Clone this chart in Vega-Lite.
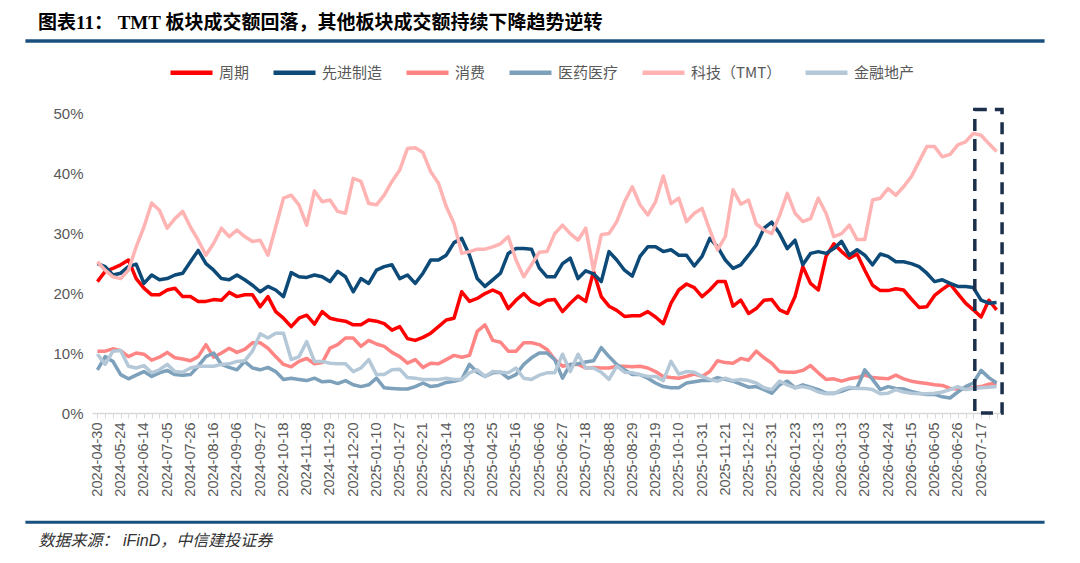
{
  "$schema": "https://vega.github.io/schema/vega-lite/v6.json",
  "width": 910,
  "height": 300,
  "autosize": "none",
  "padding": {"left": 92, "top": 113, "right": 78, "bottom": 150},
  "background": "white",
  "title": {
    "text": "图表11：  TMT 板块成交额回落，其他板块成交额持续下降趋势逆转",
    "anchor": "start",
    "frame": "group",
    "fontSize": 19,
    "font": "'Liberation Serif', 'Noto Sans CJK SC'",
    "fontWeight": "bold",
    "color": "#000000",
    "dx": -54,
    "offset": 6
  },
  "config": {"view": {"stroke": null}},
  "layer": [
    {
      "data": {"values": [
        {"d":"2024-04-30","周期":21.9,"先进制造":24.9,"消费":10.3,"医药医疗":7.2,"科技（TMT）":25.2,"金融地产":9.8},
        {"d":"2024-05-10","周期":23.6,"先进制造":24.4,"消费":10.3,"医药医疗":9.4,"科技（TMT）":23.8,"金融地产":8.1},
        {"d":"2024-05-17","周期":24.1,"先进制造":23.0,"消费":10.7,"医药医疗":8.6,"科技（TMT）":22.7,"金融地产":10.3},
        {"d":"2024-05-24","周期":24.7,"先进制造":23.3,"消费":10.4,"医药医疗":6.4,"科技（TMT）":22.4,"金融地产":10.4},
        {"d":"2024-05-31","周期":25.5,"先进制造":24.4,"消费":9.4,"医药医疗":5.7,"科技（TMT）":23.8,"金融地产":7.8},
        {"d":"2024-06-07","周期":22.4,"先进制造":24.8,"消费":10.0,"医药医疗":6.3,"科技（TMT）":27.7,"金融地产":7.5},
        {"d":"2024-06-14","周期":20.8,"先进制造":21.6,"消费":9.8,"医药医疗":6.9,"科技（TMT）":31.0,"金融地产":7.9},
        {"d":"2024-06-21","周期":19.7,"先进制造":23.0,"消费":8.8,"医药医疗":6.1,"科技（TMT）":35.0,"金融地产":6.7},
        {"d":"2024-06-28","周期":19.7,"先进制造":22.2,"消费":9.3,"医药医疗":6.7,"科技（TMT）":33.8,"金融地产":7.2},
        {"d":"2024-07-05","周期":20.5,"先进制造":22.4,"消费":10.1,"医药医疗":7.1,"科技（TMT）":30.8,"金融地产":8.1},
        {"d":"2024-07-12","周期":20.8,"先进制造":23.0,"消费":9.2,"医药医疗":6.4,"科技（TMT）":32.4,"金融地产":6.9},
        {"d":"2024-07-19","周期":19.4,"先进制造":23.3,"消费":9.0,"医药医疗":6.3,"科技（TMT）":33.6,"金融地产":6.8},
        {"d":"2024-07-26","周期":19.4,"先进制造":25.2,"消费":8.7,"医药医疗":6.4,"科技（TMT）":31.0,"金融地产":7.5},
        {"d":"2024-08-02","周期":18.6,"先进制造":27.1,"消费":9.4,"医药医疗":7.8,"科技（TMT）":28.8,"金融地产":7.8},
        {"d":"2024-08-09","周期":18.6,"先进制造":24.9,"消费":11.4,"医药医疗":9.4,"科技（TMT）":26.3,"金融地产":7.8},
        {"d":"2024-08-16","周期":18.9,"先进制造":23.8,"消费":9.3,"医药医疗":10.0,"科技（TMT）":28.3,"金融地产":7.8},
        {"d":"2024-08-23","周期":18.8,"先进制造":22.4,"消费":10.0,"医药医疗":8.1,"科技（TMT）":30.8,"金融地产":8.1},
        {"d":"2024-08-30","周期":20.1,"先进制造":22.2,"消费":10.8,"医药医疗":7.6,"科技（TMT）":29.4,"金融地产":8.2},
        {"d":"2024-09-06","周期":19.4,"先进制造":23.0,"消费":10.1,"医药医疗":7.2,"科技（TMT）":30.5,"金融地产":8.6},
        {"d":"2024-09-13","周期":19.7,"先进制造":22.2,"消费":10.6,"医药医疗":8.6,"科技（TMT）":29.4,"金融地产":8.7},
        {"d":"2024-09-20","周期":19.7,"先进制造":21.3,"消费":11.7,"医药医疗":7.5,"科技（TMT）":28.6,"金融地产":10.3},
        {"d":"2024-09-27","周期":17.7,"先进制造":20.2,"消费":11.7,"医药医疗":7.2,"科技（TMT）":28.8,"金融地产":13.2},
        {"d":"2024-09-30","周期":19.4,"先进制造":21.1,"消费":10.8,"医药医疗":7.6,"科技（TMT）":26.3,"金融地产":12.5},
        {"d":"2024-10-11","周期":16.9,"先进制造":20.5,"消费":9.4,"医药医疗":6.9,"科技（TMT）":31.0,"金融地产":13.3},
        {"d":"2024-10-18","周期":15.8,"先进制造":19.4,"消费":8.1,"医药医疗":5.6,"科技（TMT）":35.8,"金融地产":13.3},
        {"d":"2024-10-25","周期":14.4,"先进制造":23.4,"消费":7.7,"医药医疗":5.8,"科技（TMT）":36.3,"金融地产":8.9},
        {"d":"2024-11-01","周期":15.8,"先进制造":22.7,"消费":8.6,"医药医疗":5.6,"科技（TMT）":34.7,"金融地产":9.4},
        {"d":"2024-11-08","周期":16.3,"先进制造":22.6,"消费":9.1,"医药医疗":5.4,"科技（TMT）":31.3,"金融地产":11.9},
        {"d":"2024-11-15","周期":14.8,"先进制造":23.0,"消费":8.2,"医药医疗":5.8,"科技（TMT）":37.0,"金融地产":8.6},
        {"d":"2024-11-22","周期":16.9,"先进制造":22.7,"消费":8.4,"医药医疗":5.2,"科技（TMT）":35.2,"金融地产":8.6},
        {"d":"2024-11-29","周期":15.8,"先进制造":21.9,"消费":10.8,"医药医疗":5.3,"科技（TMT）":35.5,"金融地产":8.3},
        {"d":"2024-12-06","周期":15.5,"先进制造":23.6,"消费":11.4,"医药医疗":4.9,"科技（TMT）":33.6,"金融地产":8.2},
        {"d":"2024-12-13","周期":15.3,"先进制造":22.7,"消费":12.5,"医药医疗":5.4,"科技（TMT）":33.3,"金融地产":8.2},
        {"d":"2024-12-20","周期":14.7,"先进制造":20.2,"消费":12.5,"医药医疗":4.7,"科技（TMT）":39.1,"金融地产":6.9},
        {"d":"2024-12-27","周期":14.7,"先进制造":22.4,"消费":11.1,"医药医疗":4.4,"科技（TMT）":38.6,"金融地产":7.5},
        {"d":"2025-01-03","周期":15.5,"先进制造":21.6,"消费":12.1,"医药医疗":4.7,"科技（TMT）":34.9,"金融地产":8.9},
        {"d":"2025-01-10","周期":15.3,"先进制造":23.8,"消费":11.5,"医药医疗":5.8,"科技（TMT）":34.7,"金融地产":6.4},
        {"d":"2025-01-17","周期":14.9,"先进制造":24.4,"消费":11.1,"医药医疗":4.2,"科技（TMT）":36.3,"金融地产":6.4},
        {"d":"2025-01-24","周期":13.8,"先进制造":24.7,"消费":10.1,"医药医疗":4.1,"科技（TMT）":38.6,"金融地产":7.2},
        {"d":"2025-01-27","周期":14.4,"先进制造":22.4,"消费":9.4,"医药医疗":4.0,"科技（TMT）":40.5,"金融地产":7.3},
        {"d":"2025-02-07","周期":12.4,"先进制造":23.0,"消费":8.3,"医药医疗":4.0,"科技（TMT）":44.1,"金融地产":5.9},
        {"d":"2025-02-14","周期":12.1,"先进制造":21.6,"消费":8.9,"医药医疗":4.4,"科技（TMT）":44.2,"金融地产":5.8},
        {"d":"2025-02-21","周期":12.6,"先进制造":23.3,"消费":7.6,"医药医疗":5.0,"科技（TMT）":43.4,"金融地产":5.6},
        {"d":"2025-02-28","周期":13.3,"先进制造":25.5,"消费":8.3,"医药医疗":4.4,"科技（TMT）":40.2,"金融地产":5.6},
        {"d":"2025-03-07","周期":14.4,"先进制造":25.5,"消费":8.2,"医药医疗":4.6,"科技（TMT）":38.3,"金融地产":5.6},
        {"d":"2025-03-14","周期":15.5,"先进制造":26.3,"消费":8.9,"医药医疗":5.1,"科技（TMT）":34.4,"金融地产":5.8},
        {"d":"2025-03-21","周期":15.8,"先进制造":28.4,"消费":9.6,"医药医疗":5.3,"科技（TMT）":31.6,"金融地产":5.6},
        {"d":"2025-03-28","周期":20.2,"先进制造":29.1,"消费":9.3,"医药医疗":5.6,"科技（TMT）":26.6,"金融地产":5.6},
        {"d":"2025-04-03","周期":18.6,"先进制造":26.3,"消费":9.6,"医药医疗":8.1,"科技（TMT）":26.9,"金融地产":6.7},
        {"d":"2025-04-11","周期":19.1,"先进制造":22.4,"消费":13.6,"医药医疗":6.8,"科技（TMT）":27.3,"金融地产":7.2},
        {"d":"2025-04-18","周期":19.9,"先进制造":21.1,"消费":14.7,"医药医疗":6.1,"科技（TMT）":27.3,"金融地产":6.1},
        {"d":"2025-04-25","周期":20.5,"先进制造":22.2,"消费":12.1,"医药医疗":6.7,"科技（TMT）":27.7,"金融地产":6.9},
        {"d":"2025-04-30","周期":19.9,"先进制造":23.3,"消费":11.8,"医药医疗":6.8,"科技（TMT）":28.2,"金融地产":6.8},
        {"d":"2025-05-09","周期":17.4,"先进制造":26.6,"消费":10.3,"医药医疗":5.8,"科技（TMT）":29.4,"金融地产":6.7},
        {"d":"2025-05-16","周期":18.8,"先进制造":27.4,"消费":10.3,"医药医疗":6.4,"科技（TMT）":25.5,"金融地产":7.5},
        {"d":"2025-05-23","周期":19.9,"先进制造":27.4,"消费":11.7,"医药医疗":8.1,"科技（TMT）":22.7,"金融地产":5.8},
        {"d":"2025-05-30","周期":18.6,"先进制造":27.3,"消费":11.7,"医药医疗":9.2,"科技（TMT）":24.7,"金融地产":5.6},
        {"d":"2025-06-06","周期":18.0,"先进制造":24.2,"消费":11.4,"医药医疗":10.0,"科技（TMT）":26.8,"金融地产":6.3},
        {"d":"2025-06-13","周期":18.8,"先进制造":22.7,"消费":10.6,"医药医疗":10.0,"科技（TMT）":26.9,"金融地产":6.7},
        {"d":"2025-06-20","周期":18.9,"先进制造":22.7,"消费":8.9,"医药医疗":8.9,"科技（TMT）":29.9,"金融地产":6.7},
        {"d":"2025-06-27","周期":16.9,"先进制造":24.9,"消费":7.8,"医药医疗":5.8,"科技（TMT）":31.3,"金融地产":9.8},
        {"d":"2025-07-04","周期":18.3,"先进制造":25.8,"消费":8.1,"医药医疗":8.1,"科技（TMT）":29.9,"金融地产":6.9},
        {"d":"2025-07-11","周期":19.5,"先进制造":22.4,"消费":8.1,"医药医疗":8.2,"科技（TMT）":28.8,"金融地产":9.8},
        {"d":"2025-07-18","周期":18.6,"先进制造":23.7,"消费":7.5,"医药医疗":8.5,"科技（TMT）":30.8,"金融地产":7.5},
        {"d":"2025-07-25","周期":23.6,"先进制造":23.2,"消费":7.6,"医药医疗":8.7,"科技（TMT）":23.8,"金融地产":7.5},
        {"d":"2025-08-01","周期":19.4,"先进制造":21.9,"消费":7.5,"医药医疗":10.9,"科技（TMT）":29.7,"金融地产":6.8},
        {"d":"2025-08-08","周期":17.8,"先进制造":26.9,"消费":7.5,"医药医疗":9.4,"科技（TMT）":29.9,"金融地产":5.6},
        {"d":"2025-08-15","周期":17.1,"先进制造":25.5,"消费":7.8,"医药医疗":8.1,"科技（TMT）":31.9,"金融地产":7.8},
        {"d":"2025-08-22","周期":16.1,"先进制造":23.8,"消费":7.8,"医药医疗":7.2,"科技（TMT）":35.2,"金融地产":6.8},
        {"d":"2025-08-29","周期":16.2,"先进制造":22.8,"消费":7.7,"医药医疗":6.4,"科技（TMT）":37.7,"金融地产":6.7},
        {"d":"2025-09-05","周期":16.2,"先进制造":26.1,"消费":7.8,"医药医疗":6.4,"科技（TMT）":34.7,"金融地产":6.4},
        {"d":"2025-09-12","周期":16.9,"先进制造":27.7,"消费":7.5,"医药医疗":5.8,"科技（TMT）":33.0,"金融地产":6.1},
        {"d":"2025-09-19","周期":16.0,"先进制造":27.7,"消费":6.9,"医药医疗":5.0,"科技（TMT）":35.2,"金融地产":6.1},
        {"d":"2025-09-26","周期":14.9,"先进制造":26.9,"消费":6.1,"医药医疗":4.4,"科技（TMT）":39.5,"金融地产":5.4},
        {"d":"2025-09-30","周期":18.3,"先进制造":27.2,"消费":5.9,"医药医疗":4.2,"科技（TMT）":34.9,"金融地产":8.6},
        {"d":"2025-10-10","周期":20.5,"先进制造":26.3,"消费":5.8,"医药医疗":4.2,"科技（TMT）":35.8,"金融地产":6.5},
        {"d":"2025-10-17","周期":21.5,"先进制造":26.3,"消费":6.1,"医药医疗":5.0,"科技（TMT）":31.9,"金融地产":6.9},
        {"d":"2025-10-24","周期":20.9,"先进制造":24.5,"消费":6.5,"医药医疗":5.2,"科技（TMT）":33.3,"金融地产":6.8},
        {"d":"2025-10-31","周期":19.4,"先进制造":26.1,"消费":6.1,"医药医疗":5.4,"科技（TMT）":34.1,"金融地产":6.1},
        {"d":"2025-11-07","周期":20.5,"先进制造":29.1,"消费":6.9,"医药医疗":5.4,"科技（TMT）":30.5,"金融地产":5.6},
        {"d":"2025-11-14","周期":21.9,"先进制造":27.7,"消费":8.7,"医药医疗":5.9,"科技（TMT）":27.2,"金融地产":5.3},
        {"d":"2025-11-21","周期":21.9,"先进制造":25.5,"消费":8.4,"医药医疗":5.6,"科技（TMT）":29.4,"金融地产":5.8},
        {"d":"2025-11-28","周期":17.8,"先进制造":24.1,"消费":8.3,"医药医疗":5.3,"科技（TMT）":37.2,"金融地产":5.4},
        {"d":"2025-12-05","周期":18.8,"先进制造":24.7,"消费":9.1,"医药医疗":4.8,"科技（TMT）":34.8,"金融地产":5.6},
        {"d":"2025-12-12","周期":16.6,"先进制造":26.3,"消费":8.8,"医药医疗":4.3,"科技（TMT）":35.5,"金融地产":5.4},
        {"d":"2025-12-19","周期":17.4,"先进制造":28.0,"消费":10.3,"医药医疗":4.4,"科技（TMT）":31.5,"金融地产":5.0},
        {"d":"2025-12-26","周期":18.8,"先进制造":30.8,"消费":9.2,"医药医疗":3.9,"科技（TMT）":30.5,"金融地产":4.2},
        {"d":"2025-12-31","周期":18.9,"先进制造":31.8,"消费":8.3,"医药医疗":3.3,"科技（TMT）":29.9,"金融地产":3.9},
        {"d":"2026-01-09","周期":17.2,"先进制造":29.9,"消费":6.9,"医药医疗":4.7,"科技（TMT）":32.9,"金融地产":5.3},
        {"d":"2026-01-16","周期":16.6,"先进制造":27.4,"消费":6.8,"医药医疗":5.3,"科技（TMT）":36.6,"金融地产":4.7},
        {"d":"2026-01-23","周期":19.4,"先进制造":28.8,"消费":6.8,"医药医疗":4.2,"科技（TMT）":33.3,"金融地产":4.2},
        {"d":"2026-01-30","周期":24.4,"先进制造":24.7,"消费":7.1,"医药医疗":4.7,"科技（TMT）":31.9,"金融地产":4.4},
        {"d":"2026-02-06","周期":21.6,"先进制造":26.6,"消费":7.9,"医药医疗":4.3,"科技（TMT）":32.4,"金融地产":4.1},
        {"d":"2026-02-13","周期":20.5,"先进制造":26.9,"消费":6.7,"医药医疗":3.9,"科技（TMT）":35.8,"金融地产":3.5},
        {"d":"2026-02-27","周期":26.1,"先进制造":26.6,"消费":5.6,"医药医疗":3.3,"科技（TMT）":33.3,"金融地产":3.2},
        {"d":"2026-03-06","周期":28.2,"先进制造":27.4,"消费":5.7,"医药医疗":3.3,"科技（TMT）":29.4,"金融地产":3.2},
        {"d":"2026-03-13","周期":26.9,"先进制造":28.6,"消费":5.3,"医药医疗":3.6,"科技（TMT）":29.9,"金融地产":3.9},
        {"d":"2026-03-20","周期":25.8,"先进制造":26.3,"消费":5.7,"医药医疗":4.1,"科技（TMT）":31.3,"金融地产":4.3},
        {"d":"2026-03-27","周期":26.5,"先进制造":27.2,"消费":5.9,"医药医疗":4.2,"科技（TMT）":28.9,"金融地产":4.1},
        {"d":"2026-04-03","周期":23.8,"先进制造":26.3,"消费":6.3,"医药医疗":7.2,"科技（TMT）":28.9,"金融地产":4.1},
        {"d":"2026-04-10","周期":21.3,"先进制造":24.7,"消费":5.9,"医药医疗":5.6,"科技（TMT）":35.5,"金融地产":3.9},
        {"d":"2026-04-17","周期":20.4,"先进制造":26.5,"消费":5.8,"医药医疗":3.9,"科技（TMT）":35.8,"金融地产":3.2},
        {"d":"2026-04-24","周期":20.4,"先进制造":26.1,"消费":5.7,"医药医疗":4.4,"科技（TMT）":37.4,"金融地产":3.3},
        {"d":"2026-04-30","周期":20.7,"先进制造":25.2,"消费":6.3,"医药医疗":4.1,"科技（TMT）":36.3,"金融地产":3.9},
        {"d":"2026-05-08","周期":20.5,"先进制造":25.2,"消费":5.7,"医药医疗":4.0,"科技（TMT）":37.7,"金融地产":3.5},
        {"d":"2026-05-15","周期":19.0,"先进制造":24.9,"消费":5.3,"医药医疗":3.6,"科技（TMT）":39.4,"金融地产":3.3},
        {"d":"2026-05-22","周期":17.6,"先进制造":24.4,"消费":5.1,"医药医疗":3.3,"科技（TMT）":41.9,"金融地产":3.2},
        {"d":"2026-05-29","周期":17.7,"先进制造":23.3,"消费":4.9,"医药医疗":3.1,"科技（TMT）":44.4,"金融地产":3.2},
        {"d":"2026-06-05","周期":19.6,"先进制造":21.9,"消费":4.7,"医药医疗":3.1,"科技（TMT）":44.4,"金融地产":3.3},
        {"d":"2026-06-12","周期":20.6,"先进制造":22.2,"消费":4.6,"医药医疗":2.7,"科技（TMT）":42.7,"金融地产":3.5},
        {"d":"2026-06-19","周期":21.5,"先进制造":21.6,"消费":4.1,"医药医疗":2.5,"科技（TMT）":43.1,"金融地产":3.9},
        {"d":"2026-06-26","周期":19.9,"先进制造":21.1,"消费":4.0,"医药医疗":3.5,"科技（TMT）":44.7,"金融地产":4.4},
        {"d":"2026-07-03","周期":18.3,"先进制造":21.1,"消费":4.1,"医药医疗":4.4,"科技（TMT）":45.2,"金融地产":3.9},
        {"d":"2026-07-10","周期":17.2,"先进制造":20.9,"消费":4.2,"医药医疗":5.0,"科技（TMT）":46.6,"金融地产":4.1},
        {"d":"2026-07-17","周期":16.0,"先进制造":18.8,"消费":4.4,"医药医疗":7.1,"科技（TMT）":46.3,"金融地产":4.2},
        {"d":"2026-07-24","周期":18.8,"先进制造":18.3,"消费":4.8,"医药医疗":5.9,"科技（TMT）":44.9,"金融地产":4.3},
        {"d":"2026-07-31","周期":17.2,"先进制造":18.4,"消费":5.0,"医药医疗":5.0,"科技（TMT）":43.6,"金融地产":4.4}
      ]},
      "transform": [
        {"fold": ["周期", "先进制造", "消费", "医药医疗", "科技（TMT）", "金融地产"], "as": ["s", "v"]}
      ],
      "mark": {"type": "line", "strokeWidth": 3.5, "strokeJoin": "round"},
      "encoding": {
        "x": {
          "field": "d",
          "type": "ordinal",
          "scale": {"type": "point", "padding": 0.7},
          "axis": {
            "title": "数据来源：  iFinD，中信建投证券",
            "titleFont": "'Liberation Sans', 'Noto Sans CJK SC'",
            "titleFontStyle": "italic",
            "titleFontWeight": "normal",
            "titleFontSize": 16,
            "titleColor": "#333333",
            "titleAnchor": "start",
            "titleAlign": "left",
            "titleBaseline": "middle",
            "titleAngle": 0,
            "titleX": -54,
            "titleY": 127,
            "labelAngle": 270,
            "labelFont": "Liberation Sans",
            "labelFontSize": 14.5,
            "labelColor": "#595959",
            "labelPadding": 4,
            "labelOverlap": false,
            "labelExpr": "round(datum.index * 116) % 3 == 0 ? datum.label : ''",
            "tickSize": 5,
            "tickColor": "#D9D9D9",
            "domainColor": "#D9D9D9",
            "domainWidth": 1.5,
            "grid": false
          }
        },
        "y": {
          "field": "v",
          "type": "quantitative",
          "scale": {"domain": [0, 50]},
          "axis": {
            "title": null,
            "values": [0, 5, 10, 15, 20, 25, 30, 35, 40, 45, 50],
            "labelExpr": "datum.value + '%'",
            "labelFont": "Liberation Sans",
            "labelFontSize": 15,
            "labelColor": "#595959",
            "labelPadding": 9,
            "domain": false,
            "ticks": false,
            "grid": false
          }
        },
        "color": {
          "field": "s",
          "type": "nominal",
          "scale": {
            "domain": ["周期", "先进制造", "消费", "医药医疗", "科技（TMT）", "金融地产"],
            "range": ["#FF0000", "#0D4A78", "#FF8585", "#7DA0BB", "#FFB3B3", "#B4C8D8"]
          },
          "legend": {
            "title": null,
            "orient": "none",
            "legendX": 76,
            "legendY": -64,
            "direction": "horizontal",
            "columns": 6,
            "symbolType": "stroke",
            "symbolStrokeWidth": 4.5,
            "symbolSize": 1764,
            "labelFont": "Noto Sans CJK SC",
            "labelFontSize": 15,
            "labelColor": "#595959",
            "labelOffset": 4,
            "columnPadding": 14,
            "padding": 0
          }
        }
      }
    },
    {
      "data": {"values": [{}]},
      "mark": {"type": "rect", "fill": null, "stroke": "#1B2F4B", "strokeWidth": 3.5, "strokeDash": [12, 8], "xOffset": 1.5, "x2Offset": 5.5},
      "encoding": {
        "x": {"datum": "2026-07-10", "type": "ordinal"},
        "x2": {"datum": "2026-07-31"},
        "y": {"datum": 0, "type": "quantitative"},
        "y2": {"datum": 50.6}
      }
    },
    {
      "data": {"values": [{}]},
      "mark": {"type": "rule", "stroke": "#1A5080", "strokeWidth": 3.5, "xOffset": -72, "x2Offset": 48},
      "encoding": {
        "x": {"datum": "2024-04-30", "type": "ordinal"},
        "x2": {"datum": "2026-07-31"},
        "y": {"datum": 62, "type": "quantitative"}
      }
    },
    {
      "data": {"values": [{}]},
      "mark": {"type": "rule", "stroke": "#1A5080", "strokeWidth": 3, "xOffset": -72, "x2Offset": 48},
      "encoding": {
        "x": {"datum": "2024-04-30", "type": "ordinal"},
        "x2": {"datum": "2026-07-31"},
        "y": {"datum": -18.2, "type": "quantitative"}
      }
    }
  ]
}
